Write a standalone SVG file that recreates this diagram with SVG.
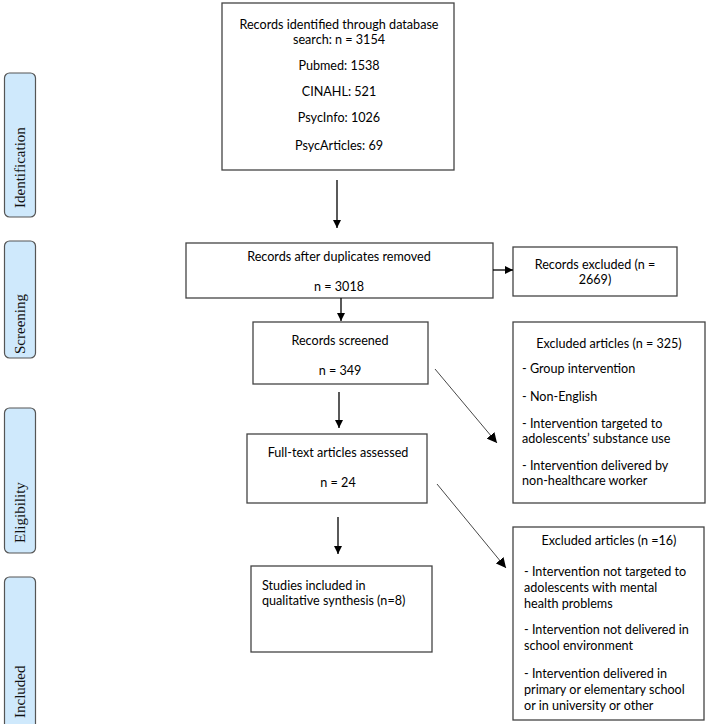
<svg xmlns="http://www.w3.org/2000/svg" width="708" height="724" viewBox="0 0 708 724">
<style>
.box{fill:#fff;stroke:#444;stroke-width:1.3}
.side{fill:#cfe9fc;stroke:#555;stroke-width:1.2}
.t{font-family:Lato,"Liberation Sans",sans-serif;font-size:12.6px;fill:#000}
.c{text-anchor:middle}
.s{font-family:"Liberation Serif","DejaVu Serif",serif;font-size:15px;fill:#111}
.ln{stroke:#000;stroke-width:1.3;fill:none}
.dg{stroke:#333;stroke-width:0.9;fill:none}
</style>
<defs>
<marker id="ah" viewBox="0 0 10 10" refX="10" refY="5" markerWidth="8" markerHeight="8" markerUnits="userSpaceOnUse" orient="auto">
<path d="M0,0 L10,5 L0,10 z" fill="#000"/>
</marker>
<marker id="ah2" viewBox="0 0 10 10" refX="10" refY="5" markerWidth="10" markerHeight="10" markerUnits="userSpaceOnUse" orient="auto">
<path d="M0,0 L10,5 L0,10 z" fill="#000"/>
</marker>
</defs>
<g id="phase-identification"><rect class="side" x="4.5" y="73" width="31" height="144" rx="5"/><text class="s" transform="translate(25,208) rotate(-90)">Identification</text></g>
<g id="phase-screening"><rect class="side" x="4.5" y="241" width="31" height="117" rx="5"/><text class="s" transform="translate(25,354) rotate(-90)">Screening</text></g>
<g id="phase-eligibility"><rect class="side" x="4.5" y="408" width="31" height="145" rx="5"/><text class="s" transform="translate(25,543) rotate(-90)">Eligibility</text></g>
<g id="phase-included"><rect class="side" x="4.5" y="577" width="31" height="160" rx="5"/><text class="s" transform="translate(25,718) rotate(-90)">Included</text></g>

<g id="identified"><rect class="box" x="222" y="3" width="232" height="167"/>
<text class="t c" x="339" y="29">Records identified through database</text>
<text class="t c" x="339" y="44">search: n = 3154</text>
<text class="t c" x="339" y="70">Pubmed: 1538</text>
<text class="t c" x="339" y="96">CINAHL: 521</text>
<text class="t c" x="339" y="122">PsycInfo: 1026</text>
<text class="t c" x="339" y="150">PsycArticles: 69</text></g>

<g id="duplicates"><rect class="box" x="186" y="243" width="307" height="55"/>
<text class="t c" x="339" y="261">Records after duplicates removed</text>
<text class="t c" x="339" y="291">n = 3018</text></g>

<g id="excluded-records"><rect class="box" x="513" y="247" width="164" height="49"/>
<text class="t c" x="595" y="269">Records excluded (n =</text>
<text class="t c" x="595" y="284">2669)</text></g>

<g id="screened"><rect class="box" x="253" y="322" width="175" height="62"/>
<text class="t c" x="340" y="345">Records screened</text>
<text class="t c" x="340" y="375">n = 349</text></g>

<g id="excluded-325"><rect class="box" x="513" y="322" width="192" height="181"/>
<text class="t c" x="609" y="348">Excluded articles (n = 325)</text>
<text class="t" x="522" y="373">- Group intervention</text>
<text class="t" x="522" y="401">- Non-English</text>
<text class="t" x="522" y="428">- Intervention targeted to</text>
<text class="t" x="522" y="443">adolescents’ substance use</text>
<text class="t" x="522" y="470">- Intervention delivered by</text>
<text class="t" x="522" y="485">non-healthcare worker</text></g>

<g id="fulltext"><rect class="box" x="247" y="434" width="180" height="69"/>
<text class="t c" x="338" y="457">Full-text articles assessed</text>
<text class="t c" x="338" y="487">n = 24</text></g>

<g id="excluded-16"><rect class="box" x="513" y="527" width="191" height="193"/>
<text class="t c" x="609" y="545">Excluded articles (n =16)</text>
<text class="t" x="524" y="576">- Intervention not targeted to</text>
<text class="t" x="524" y="592">adolescents with mental</text>
<text class="t" x="524" y="608">health problems</text>
<text class="t" x="524" y="634">- Intervention not delivered in</text>
<text class="t" x="524" y="650">school environment</text>
<text class="t" x="524" y="678">- Intervention delivered in</text>
<text class="t" x="524" y="694">primary or elementary school</text>
<text class="t" x="524" y="710">or in university or other</text></g>

<g id="included"><rect class="box" x="251" y="566" width="181" height="86"/>
<text class="t" x="262" y="590">Studies included in</text>
<text class="t" x="262" y="605">qualitative synthesis (n=8)</text></g>

<g id="connectors">
<line class="ln" x1="337" y1="180" x2="337" y2="228" marker-end="url(#ah)"/>
<line class="ln" x1="493" y1="270" x2="513" y2="270" marker-end="url(#ah)"/>
<line class="ln" x1="341" y1="298" x2="341" y2="321" marker-end="url(#ah)"/>
<line class="ln" x1="339" y1="392" x2="339" y2="428" marker-end="url(#ah)"/>
<line class="ln" x1="338" y1="517" x2="338" y2="554" marker-end="url(#ah)"/>
<line class="dg" x1="435" y1="369" x2="497" y2="443" marker-end="url(#ah2)"/>
<line class="dg" x1="437" y1="484" x2="506" y2="568" marker-end="url(#ah2)"/>
</g>
</svg>
